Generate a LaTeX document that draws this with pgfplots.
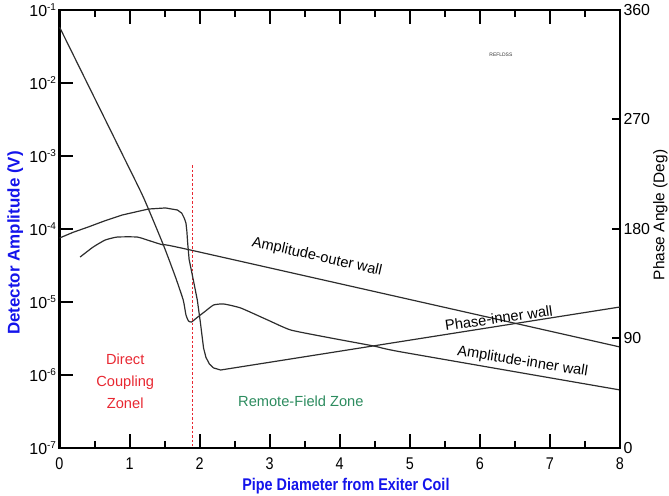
\documentclass[border=0pt]{standalone}
\usepackage{fontspec}
\setmainfont{Liberation Sans}
\newfontfamily\nar[FakeStretch=0.85]{Liberation Sans}
\usepackage{pgfplots}
\pgfplotsset{compat=1.18}
\definecolor{lblblue}{RGB}{20,20,235}
\definecolor{zred}{RGB}{232,40,50}
\definecolor{zgreen}{RGB}{45,140,95}
\definecolor{curve}{RGB}{45,45,45}
\newcommand{\sci}[1]{10\raisebox{0.42em}{\fontsize{10}{10}\selectfont #1}}
\begin{document}
\begin{tikzpicture}
\begin{axis}[
  /pgf/number format/assume math mode=true,
  scale only axis, width=560.5bp, height=438bp,
  xmin=0, xmax=8, ymode=log, ymin=1e-7, ymax=1e-1,
  xtick={0,1,...,8}, minor x tick num=1, xtick pos=both,
  ytick={1e-7,1e-6,1e-5,1e-4,1e-3,1e-2,1e-1},
  yticklabels={\sci{-7},\sci{-6},\sci{-5},\sci{-4},\sci{-3},\sci{-2},\sci{-1}},
  ytick pos=left, yminorticks=false,
  tick align=inside, major tick length=14bp, minor tick length=7bp,
  tick style={black, line width=2bp},
  axis line style={line width=2.2bp},
  xticklabel style={font=\nar\fontsize{17}{17}\selectfont, yshift=-6bp},
  yticklabel style={font=\fontsize{16}{16}\selectfont},
  xlabel={Pipe Diameter from Exiter Coil},
  xlabel style={font=\nar\bfseries\fontsize{17}{17}\selectfont, text=lblblue,
    at={(axis description cs:0.511,-0.087)}, anchor=center},
  ylabel={Detector Amplitude (V)},
  ylabel style={font=\bfseries\fontsize{17}{17}\selectfont, text=lblblue,
    at={(axis description cs:-0.079,0.468)}, anchor=center},
]
\coordinate (SW) at (rel axis cs:0,0);
\coordinate (NE) at (rel axis cs:1,1);
% Amplitude - inner wall
\addplot[curve, line width=1.2bp, smooth, tension=0.3] coordinates {
 (0,0.0585) (0.867,1.208e-3) (1.196,2.74e-4) (1.483,6.04e-5) (1.655,2.20e-5)
 (1.766,1.064e-5) (1.805,6.64e-6) (1.841,5.50e-6) (1.884,5.32e-6) (1.956,6.04e-6)
 (2.085,7.53e-6) (2.199,9.10e-6) (2.342,9.40e-6) (2.586,8.28e-6) (2.973,5.66e-6)
 (3.302,4.13e-6) (3.875,3.21e-6) (4.491,2.49e-6) (4.878,2.07e-6) (8,6.24e-7)
};
% Amplitude - outer wall
\addplot[curve, line width=1.2bp, smooth, tension=0.3] coordinates {
 (0.294,4.13e-5) (0.48,5.66e-5) (0.652,7.06e-5) (0.824,7.76e-5) (1.11,7.76e-5)
 (1.297,6.85e-5) (1.483,6.04e-5) (1.87,5.15e-5) (8,2.42e-6)
};
% boundary of direct coupling zone
\addplot[zred, line width=1.3bp, dash pattern=on 2.5bp off 2bp] coordinates {
 (1.9,7.53e-4) (1.9,1.05e-7)
};
\node[rotate=-12.7, font=\fontsize{14.7}{15}\selectfont] at (axis cs:3.675,4.13e-5) {Amplitude-outer wall};
\node[rotate=8, font=\fontsize{14.7}{15}\selectfont] at (axis cs:6.27,6.04e-6) {Phase-inner wall};
\node[rotate=-9, font=\fontsize{14.7}{15}\selectfont] at (axis cs:6.61,1.51e-6) {Amplitude-inner wall};
\node[text=zred, align=center, font=\fontsize{14.7}{22}\selectfont] at (axis cs:0.938,8.28e-7) {Direct\\Coupling\\Zonel};
\node[text=zgreen, font=\fontsize{14.7}{15}\selectfont] at (axis cs:3.445,4.41e-7) {Remote-Field Zone};
\node[font=\fontsize{5}{6}\selectfont, text=black!80] at (axis cs:6.3,0.0242) {REFLDSS};
\end{axis}
\begin{axis}[
  /pgf/number format/assume math mode=true,
  scale only axis, width=560.5bp, height=438bp,
  xmin=0, xmax=8, ymin=0, ymax=360,
  axis y line*=right, axis x line=none,
  ytick={0,90,180,270,360},
  tick align=inside, major tick length=8bp,
  tick style={black, line width=2bp},
  axis line style={line width=2.2bp},
  yticklabel style={font=\fontsize{16}{16}\selectfont},
  ylabel={Phase Angle (Deg)},
  ylabel style={font=\fontsize{15.5}{15.5}\selectfont,
    at={(axis description cs:1.072,0.532)}, anchor=center},
]
% Phase - inner wall
\addplot[curve, line width=1.2bp] coordinates {
 (0,172.6) (0.2,177.4) (0.408,181.6) (0.65,186.8) (0.895,191.5) (1.268,196.4) (1.512,197.3) (1.684,195.6)
 (1.745,193.0) (1.78,189.0) (1.805,184.9) (1.818,178.0) (1.83,168.0) (1.85,155.0) (1.91,138.1) (1.967,121.6)
 (2.01,103.6) (2.056,82.2) (2.09,74.5) (2.14,69.0) (2.199,65.8) (2.3,64.1) (8,115.9)
};
\end{axis}
\pgfresetboundingbox
\path[use as bounding box] ([shift={(-59.5bp,-48bp)}]SW) rectangle ([shift={(49bp,10bp)}]NE);
\end{tikzpicture}
\end{document}
